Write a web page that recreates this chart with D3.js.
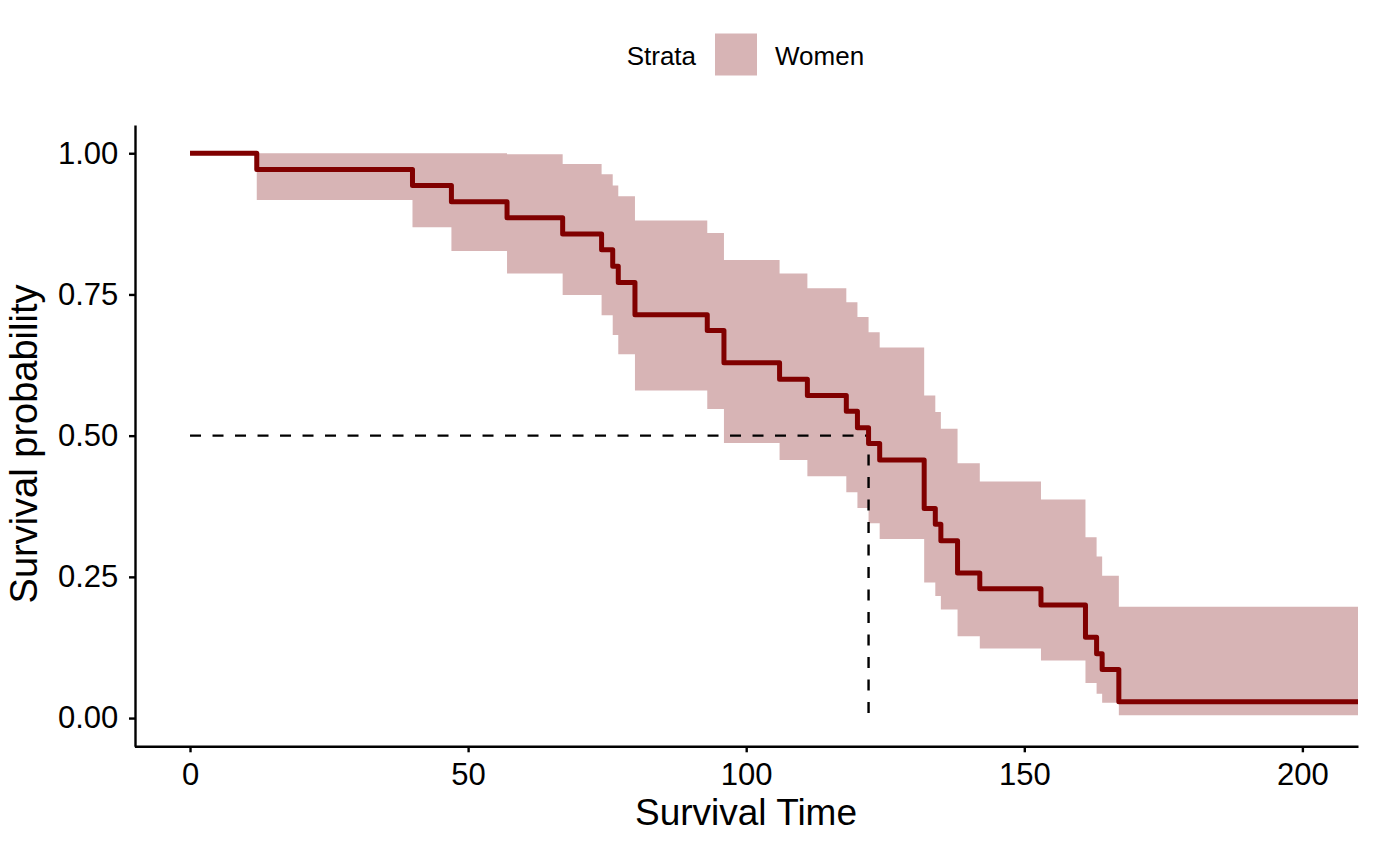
<!DOCTYPE html>
<html>
<head>
<meta charset="utf-8">
<script src="https://cdn.jsdelivr.net/npm/d3@7"></script>
<style>
  body { margin: 0; background: #fff; }
  svg text { font-family: "Liberation Sans", Arial, sans-serif; fill: #000; }
</style>
</head>
<body>
<svg id="chart" width="1374" height="849"></svg>
<script>
// step times, survival estimate and the confidence band
const times = [0, 12, 40, 47, 57, 67, 74, 76, 77, 80, 93, 96, 106, 111, 118, 120, 122, 124, 132, 134, 135, 138, 142, 153, 161, 163, 164, 167];
const surv = [1, 0.971, 0.943, 0.914, 0.886, 0.857, 0.829, 0.800, 0.771, 0.714, 0.686, 0.629, 0.600, 0.571, 0.543, 0.514, 0.486, 0.457, 0.371, 0.343, 0.314, 0.257, 0.229, 0.200, 0.143, 0.114, 0.086, 0.029];
const upper = [1, 1, 1, 1, 0.998, 0.981, 0.963, 0.943, 0.924, 0.881, 0.859, 0.811, 0.787, 0.761, 0.736, 0.710, 0.683, 0.656, 0.571, 0.542, 0.512, 0.451, 0.419, 0.387, 0.320, 0.286, 0.252, 0.197];
const lower = [1, 0.917, 0.869, 0.827, 0.787, 0.749, 0.713, 0.678, 0.644, 0.580, 0.547, 0.487, 0.457, 0.428, 0.400, 0.372, 0.345, 0.317, 0.240, 0.216, 0.192, 0.145, 0.123, 0.102, 0.062, 0.043, 0.027, 0.005];
const endTime = 210;
const medianTime = 122;
const medianSurv = 0.5;
const xTicks = [0, 50, 100, 150, 200];
const yTicks = [0, 0.25, 0.5, 0.75, 1];
const stratum = "Women";

const svg = d3.select("#chart");
const lineColor = "#800000";
const bandColor = "#d7b4b5";

const x = d3.scaleLinear().domain([-10, 210]).range([134.4, 1358]);
const y = d3.scaleLinear().domain([-0.05, 1.05]).range([746.3, 125]);
// scales match the ggplot panel with its 5% expansion

const rows = times.map((t, i) => ({ t: t, s: surv[i], hi: upper[i], lo: lower[i] }));
const last = rows[rows.length - 1];
rows.push({ t: endTime, s: last.s, hi: last.hi, lo: last.lo });
// repeat the last step so the curve runs to the end of the axis

const area = d3.area()
    .curve(d3.curveStepAfter)
    .x(d => x(d.t))
    .y0(d => y(d.lo))
    .y1(d => y(d.hi));
svg.append("path")
    .datum(rows)
    .attr("d", area)
    .attr("fill", bandColor);

// median lines
svg.append("path")
    .attr("d", d3.line()([[x(0), y(medianSurv)], [x(medianTime), y(medianSurv)], [x(medianTime), y(0)]]))
    .attr("fill", "none")
    .attr("stroke", "#000")
    .attr("stroke-width", 2.4)
    .attr("stroke-dasharray", "11,11.5");

const line = d3.line()
    .curve(d3.curveStepAfter)
    .x(d => x(d.t))
    .y(d => y(d.s));
svg.append("path")
    .datum(rows)
    .attr("d", line)
    .attr("fill", "none")
    .attr("stroke", lineColor)
    .attr("stroke-width", 5)
    .attr("stroke-linejoin", "round");

// axes
const xAxis = svg.append("g")
    .attr("transform", "translate(0,746.3)")
    .call(d3.axisBottom(x).tickValues(xTicks).tickSize(6).tickSizeOuter(0).tickPadding(10.5));
const yAxis = svg.append("g")
    .attr("transform", "translate(135,0)")
    .call(d3.axisLeft(y).tickValues(yTicks).tickFormat(d3.format(".2f")).tickSize(6).tickSizeOuter(0).tickPadding(10.7));
[xAxis, yAxis].forEach(g => {
    g.select(".domain").attr("stroke", "#000").attr("stroke-width", 2.4);
    g.selectAll(".tick line").attr("stroke", "#000").attr("stroke-width", 2.4);
    g.selectAll(".tick text").attr("font-size", "31px").attr("fill", "#000")
        .style("font-family", "'Liberation Sans', Arial, sans-serif");
});

svg.append("text")
    .attr("x", 746)
    .attr("y", 825)
    .attr("text-anchor", "middle")
    .attr("font-size", "37px")
    .text("Survival Time");
svg.append("text")
    .attr("transform", "translate(37,444) rotate(-90)")
    .attr("text-anchor", "middle")
    .attr("font-size", "38px")
    .text("Survival probability");

// legend on top
svg.append("text")
    .attr("x", 626.7)
    .attr("y", 65)
    .attr("font-size", "26px")
    .text("Strata");
svg.append("rect")
    .attr("x", 715)
    .attr("y", 33.5)
    .attr("width", 42)
    .attr("height", 42)
    .attr("fill", bandColor);
svg.append("text")
    .attr("x", 775)
    .attr("y", 65)
    .attr("font-size", "26px")
    .text(stratum);
</script>
</body>
</html>
